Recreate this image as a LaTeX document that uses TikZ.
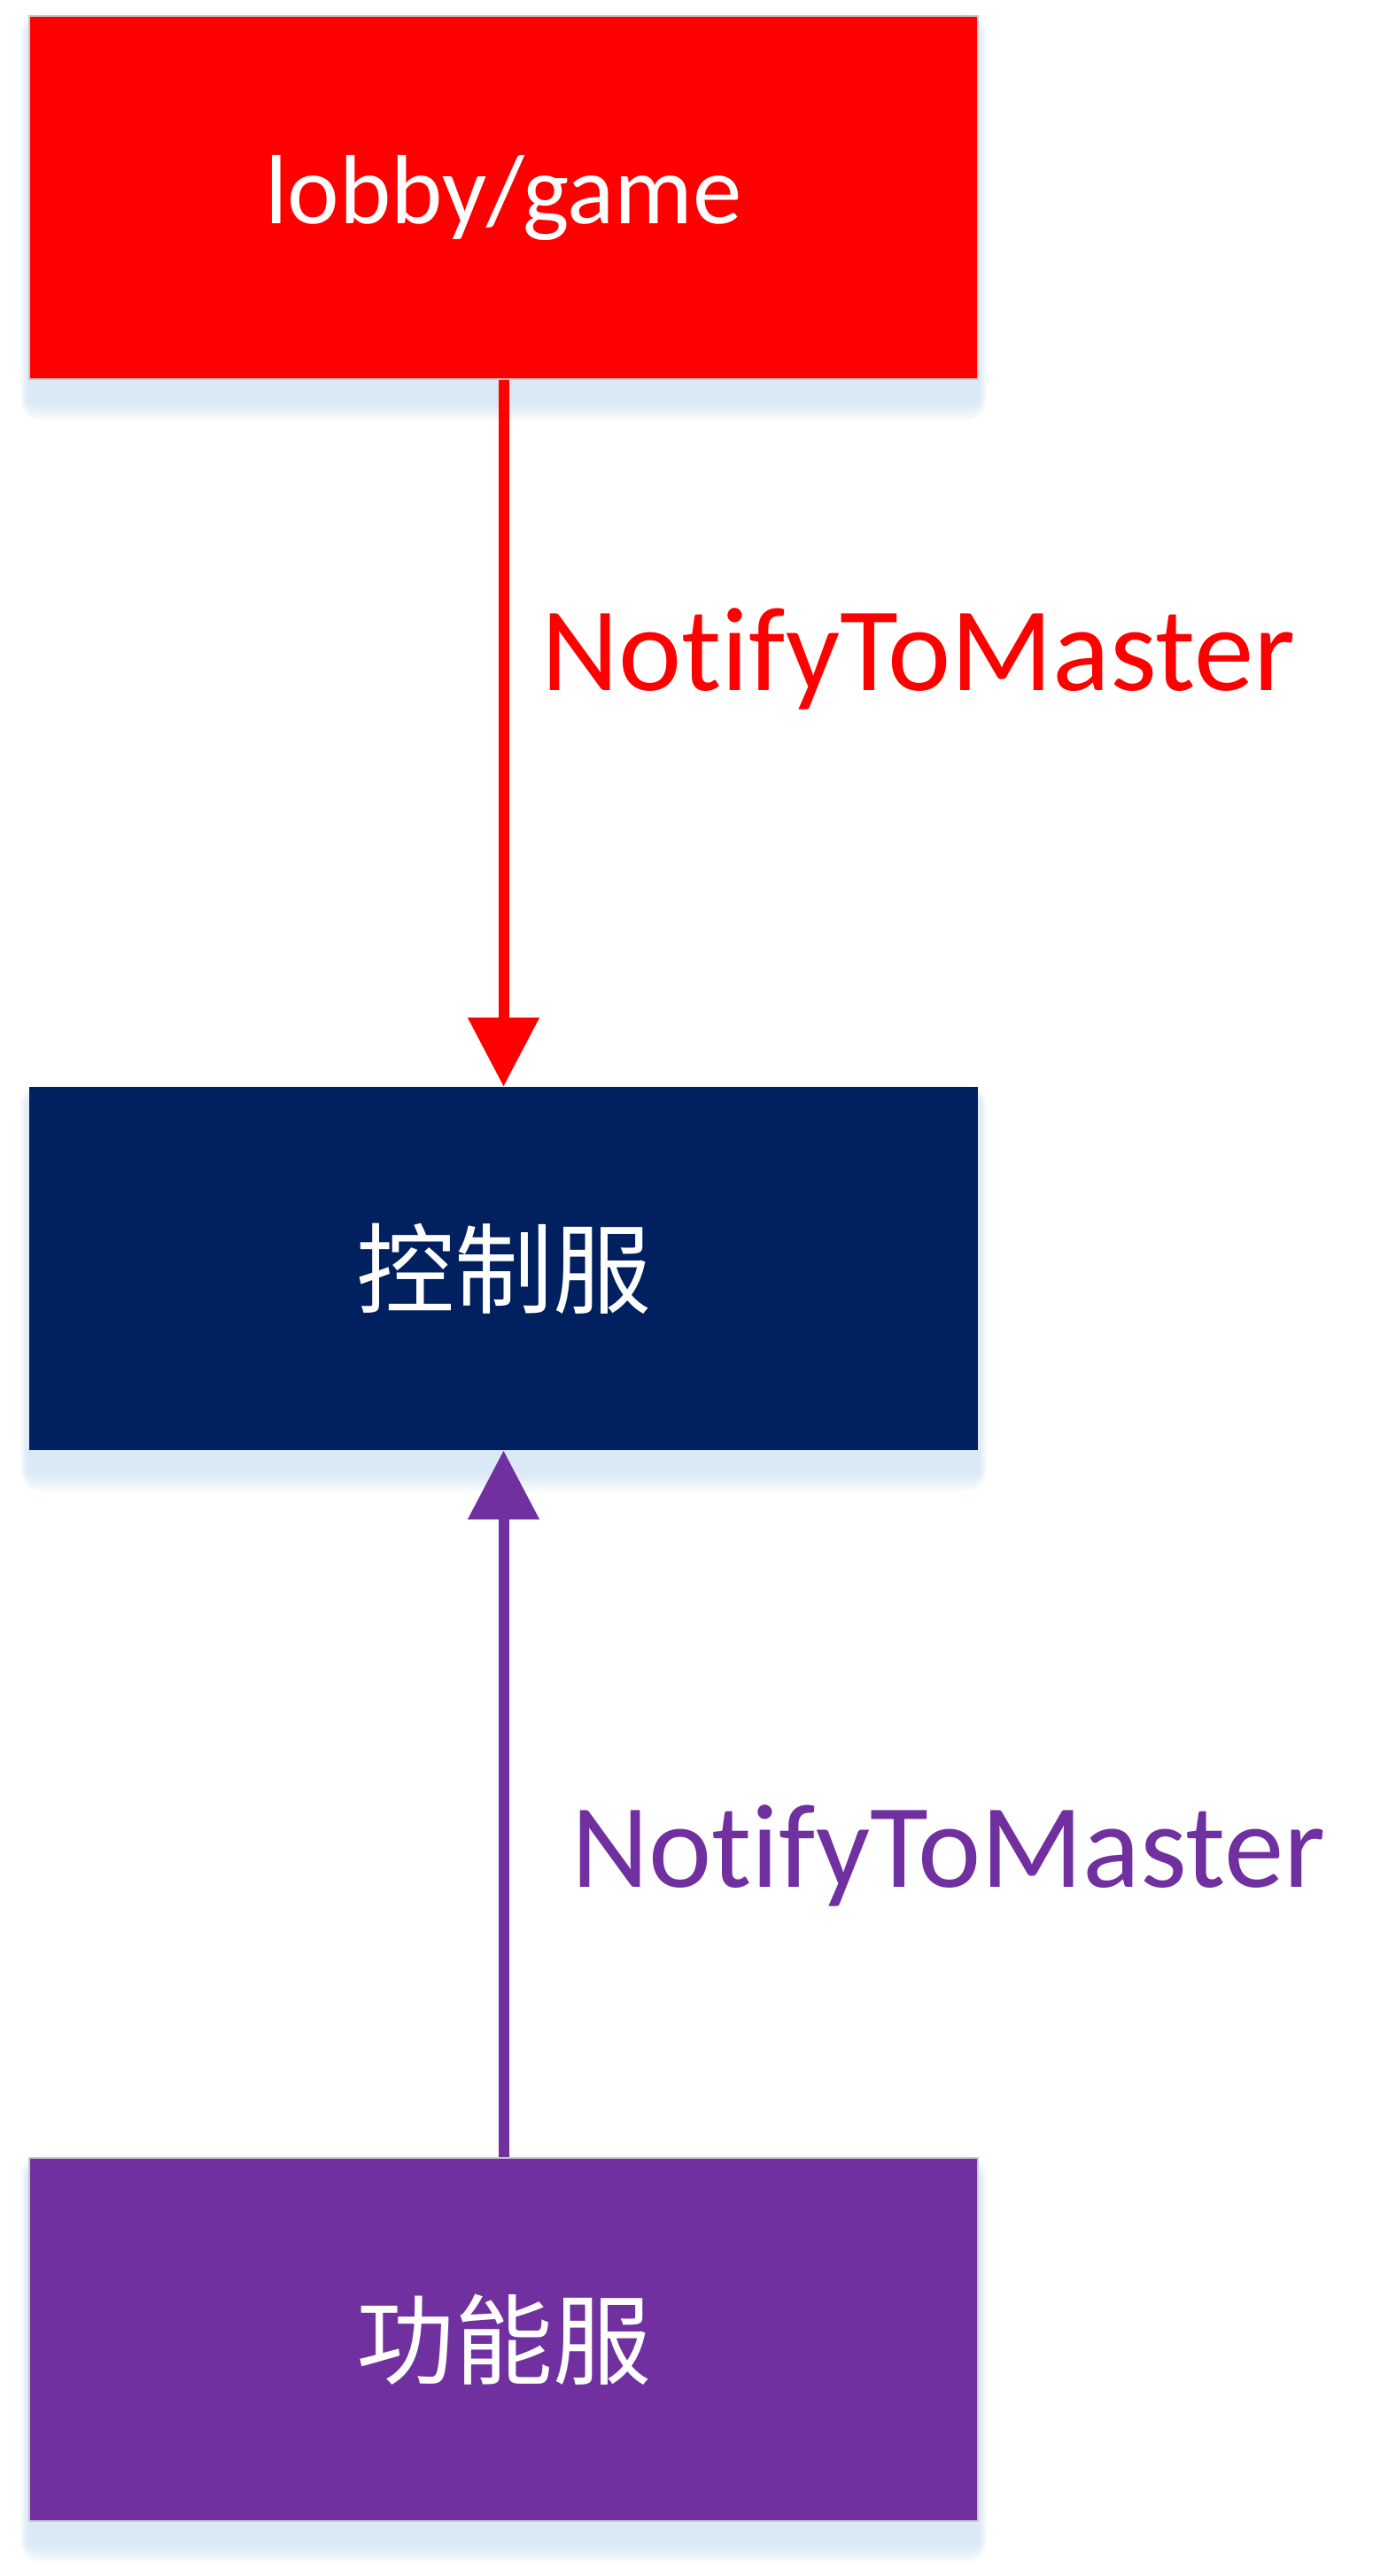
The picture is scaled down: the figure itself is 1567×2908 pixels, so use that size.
\documentclass[tikz,border=0pt]{standalone}
\usepackage{fontspec}
\setmainfont{Carlito}[Ligatures={NoCommon,NoRequired,NoContextual}]
\newfontfamily\cjk{Noto Sans CJK SC}
\usetikzlibrary{arrows.meta}
\definecolor{boxred}{RGB}{255,0,0}
\definecolor{navyblue}{RGB}{0,32,96}
\definecolor{purp}{RGB}{112,48,160}
\definecolor{shadowblue}{RGB}{196,218,240}
\definecolor{edgegray}{RGB}{200,200,200}
\newcommand{\ntm}{No\kern0pt t\kern0pt i\kern0pt f\kern0pt yToMaster}
\tikzset{
  box/.style={minimum width=535.5pt, minimum height=205pt, inner sep=0pt,
    text=white, font=\fontsize{55.5pt}{66pt}\selectfont},
  lbl/.style={inner sep=0pt, anchor=base west, font=\fontsize{67.5pt}{80pt}\selectfont},
  conn/.style={line width=6pt, -{Triangle[width=39pt,length=39pt]}},
}
\begin{document}
\begin{tikzpicture}[x=0.5pt,y=-0.5pt]
\useasboundingbox (0,0) rectangle (1567,2908);
% soft shadows
\foreach \yc in {223,1432,2641}{
  \foreach \r in {3,6,...,24}{
    \fill[shadowblue, opacity=0.11, rounded corners=\r*0.5pt]
      (33-\r*0.4,\yc-206+22-\r) rectangle (1104+\r*0.4,\yc+206+22+\r);
  }
}
\node[box, fill=boxred, draw=edgegray, line width=1.2pt] (lg) at (568.5,223) {lobby/game};
\node[box, fill=navyblue] (ctrl) at (568.5,1432) {\cjk 控制服};
\node[box, fill=purp, draw=edgegray, line width=1.2pt] (fs) at (568.5,2641) {\cjk 功能服};
\draw[conn, boxred] (lg.south) -- (ctrl.north);
\draw[conn, purp] (fs.north) -- (ctrl.south);
\node[lbl, text=boxred] (l1) at (611,779) {\ntm};
\node[lbl, text=purp] (l2) at (645,2130) {\ntm};
\end{tikzpicture}
\end{document}
